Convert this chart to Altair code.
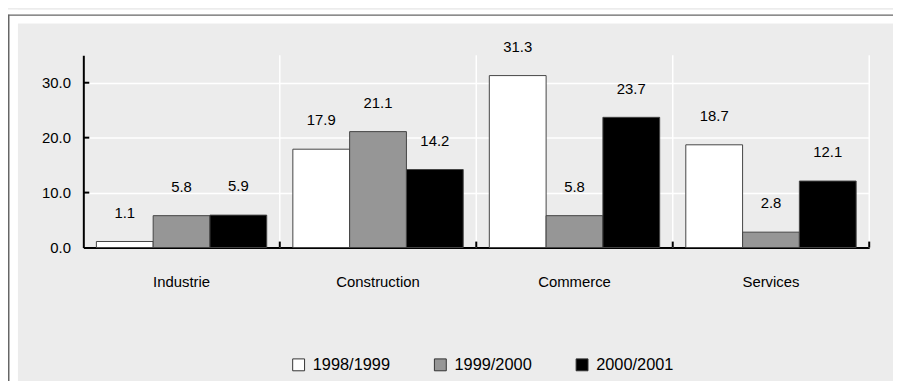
import altair as alt
import pandas as pd

sectors = ["Industrie", "Construction", "Commerce", "Services"]
periods = ["1998/1999", "1999/2000", "2000/2001"]
v_9899 = [1.1, 17.9, 31.3, 18.7]
v_9900 = [5.8, 21.1, 5.8, 2.8]
v_0001 = [5.9, 14.2, 23.7, 12.1]
colors = ["#ffffff", "#969696", "#000000"]
y_ticks = [0, 10, 20, 30]

rows = []
for p, vals in zip(periods, [v_9899, v_9900, v_0001]):
    for s, v in zip(sectors, vals):
        rows.append({"Sector": s, "Period": p, "Value": v})
df = pd.DataFrame(rows)

W, H = 793, 194
PL, PT, PR, PB = 76, 46, 24, 135
FONT = "Liberation Sans"
FS = 15

x_scale = alt.Scale(paddingInner=0, paddingOuter=0)
x_axis = alt.Axis(title=None, labelAngle=0, ticks=False, domainColor="black",
                  domainWidth=2, labelPadding=27, labelFontSize=FS, labelFont=FONT,
                  labelColor="black", grid=False)
y_scale = alt.Scale(domain=[0, 35], nice=False)
y_axis = alt.Axis(title=None, values=y_ticks, format=".1f", ticks=False,
                  domainColor="black", domainWidth=2, labelPadding=13,
                  labelFontSize=FS, labelFont=FONT, labelColor="black",
                  grid=True, gridColor="white", gridWidth=1.5)

x_enc = alt.X("Sector:N", sort=sectors, scale=x_scale, axis=x_axis)
y_enc = alt.Y("Value:Q", scale=y_scale, axis=y_axis)
xoff = alt.XOffset("Period:N", sort=periods,
                   scale=alt.Scale(paddingOuter=0.23, paddingInner=0))
color = alt.Color(
    "Period:N", sort=periods,
    scale=alt.Scale(domain=periods, range=colors),
    legend=alt.Legend(title=None, orient="none", legendX=209, legendY=304,
                      direction="horizontal", symbolType="square", symbolSize=144,
                      symbolStrokeColor="#333", symbolStrokeWidth=1,
                      labelFontSize=16.5, labelFont=FONT, labelColor="black",
                      columnPadding=42, labelOffset=6, padding=0),
)

dummy = pd.DataFrame({"d": [0]})

# outer frame: white strips and thin gray border lines
mask_top = alt.Chart(dummy).mark_rect(color="white").encode(
    x=alt.value(-PL), x2=alt.value(W + PR), y=alt.value(-PT), y2=alt.value(-PT + 14))
mask_left = alt.Chart(dummy).mark_rect(color="white").encode(
    x=alt.value(-PL), x2=alt.value(-PL + 10), y=alt.value(-PT), y2=alt.value(H + PB))
frame_h = alt.Chart(dummy).mark_rule(color="#666", strokeWidth=1.5).encode(
    x=alt.value(-PL), x2=alt.value(W + PR), y=alt.value(-PT + 5.5))
frame_v = alt.Chart(dummy).mark_rule(color="#666", strokeWidth=1.5).encode(
    x=alt.value(-PL + 0.75), y=alt.value(-PT + 5), y2=alt.value(H + PB))

bounds = pd.DataFrame({"Sector": sectors[1:]})
grid_v = alt.Chart(bounds).mark_rule(color="white", strokeWidth=1.5).encode(
    x=alt.X("Sector:N", sort=sectors, scale=x_scale, axis=x_axis, bandPosition=0),
    y=alt.value(0), y2=alt.value(H))
grid_right = alt.Chart(dummy).mark_rule(color="white", strokeWidth=1.5).encode(
    x=alt.value(W), y=alt.value(0), y2=alt.value(H))

bars = alt.Chart(df).mark_bar(stroke="#444", strokeWidth=1).encode(
    x=x_enc, xOffset=xoff, y=y_enc, color=color)

labels = alt.Chart(df).mark_text(dy=-29, fontSize=FS, font=FONT, color="black").encode(
    x=x_enc, xOffset=xoff, y=y_enc, text=alt.Text("Value:Q", format=".1f"))

xticks = alt.Chart(bounds).mark_rule(color="black", strokeWidth=2).encode(
    x=alt.X("Sector:N", sort=sectors, scale=x_scale, axis=x_axis, bandPosition=0),
    y=alt.value(H - 6), y2=alt.value(H))
xtick_right = alt.Chart(dummy).mark_rule(color="black", strokeWidth=2).encode(
    x=alt.value(W), y=alt.value(H - 6), y2=alt.value(H))

ytick_df = pd.DataFrame({"Value": y_ticks[1:]})
yticks = alt.Chart(ytick_df).mark_rule(color="black", strokeWidth=2).encode(
    y=y_enc, x=alt.value(0), x2=alt.value(6))

chart = alt.layer(
    mask_top, mask_left, frame_h, frame_v, grid_v, grid_right,
    bars, labels, xticks, xtick_right, yticks
).properties(
    width=W, height=H,
    padding={"left": PL, "top": PT, "right": PR, "bottom": PB},
    autosize=alt.AutoSizeParams(type="none"),
    background="#ececec",
).configure(font=FONT).configure_view(stroke=None)

chart.save("out.html", embed_options={"renderer": "svg", "actions": False})
